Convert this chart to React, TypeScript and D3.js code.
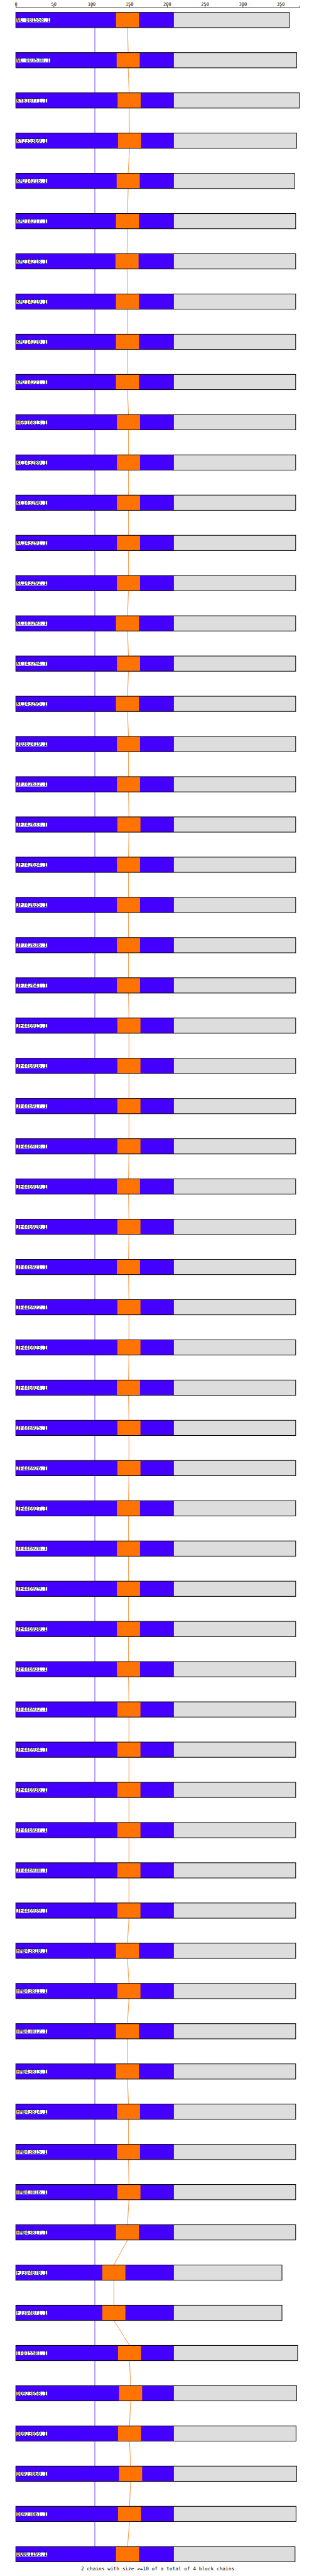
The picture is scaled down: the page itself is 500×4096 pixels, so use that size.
import React, { useEffect, useRef } from "react";
import * as d3 from "d3";

// rows, top to bottom
const LABELS = [
  "NC_001558.1", "NC_003538.1", "KY810771.1", "KY235369.1", "KM214216.1",
  "KM214217.1", "KM214218.1", "KM214219.1", "KM214220.1", "KM214221.1",
  "HG916813.1", "KC143289.1", "KC143290.1", "KC143291.1", "KC143292.1",
  "KC143293.1", "KC143294.1", "KC143295.1", "JQ362419.1", "JF742632.1",
  "JF742633.1", "JF742634.1", "JF742635.1", "JF742636.1", "JF742641.1",
  "JF446915.1", "JF446916.1", "JF446917.1", "JF446918.1", "JF446919.1",
  "JF446920.1", "JF446921.1", "JF446922.1", "JF446923.1", "JF446924.1",
  "JF446925.1", "JF446926.1", "JF446927.1", "JF446928.1", "JF446929.1",
  "JF446930.1", "JF446931.1", "JF446932.1", "JF446934.1", "JF446936.1",
  "JF446937.1", "JF446938.1", "JF446939.1", "HM043810.1", "HM043811.1",
  "HM043812.1", "HM043813.1", "HM043814.1", "HM043815.1", "HM043816.1",
  "HM043817.1", "FJ394070.1", "FJ394071.1", "EF015581.1", "DQ923058.1",
  "DQ923059.1", "DQ923060.1", "DQ923061.1", "DQ061193.1",
];

// start of the orange block in each sequence
const ORANGE_START = [
  132.5, 133.3, 134.6, 135.1, 133.3,
  132.4, 131.8, 132.4, 132.4, 132.4,
  133.7, 133.7, 133.7, 133.7, 133.7,
  132.4, 133.7, 132.4, 133.7, 133.7,
  134.3, 133.7, 133.7, 133.7, 133.7,
  134.3, 134.3, 134.3, 134.3, 133.7,
  134.3, 133.7, 134.3, 134.3, 133.7,
  134.3, 134.3, 133.7, 133.7, 133.7,
  133.7, 133.7, 134.3, 134.3, 134.3,
  134.3, 134.3, 134.3, 132.4, 134.3,
  132.4, 132.4, 133.7, 133.7, 134.3,
  132.4, 114.4, 114.4, 135.1, 136.5,
  135.1, 136.5, 135.1, 132.5,
];

// sequence lengths
const SEQ_END = [
  361.8, 371.3, 375, 371.3, 368.7,
  370, 370, 370, 370, 370,
  370, 370, 370, 370, 370,
  370, 370, 370, 370, 370,
  370, 370, 370, 370, 370,
  370, 370, 370, 370, 370,
  370, 370, 370, 370, 370,
  370, 370, 370, 370, 370,
  370, 370, 370, 370, 370,
  370, 370, 370, 370, 370,
  370, 370, 370, 370, 370,
  370, 351.9, 351.9, 372.6, 371.3,
  370.5, 371.3, 370.5, 369.2,
];

const ORANGE_LEN = 30.5;
const BLUE_END = 209;
const AXIS_MAX = 375;
const TICKS = [0, 50, 100, 150, 200, 250, 300, 350];
const FOOTER = "2 chains with size >=10 of a total of 4 block chains";

const S = 0.78;
const BLUE = "#4400ff";
const ORANGE = "#ff7300";
const GREY = "#dddddd";
const MONO = "DejaVu Sans Mono, monospace";

const App = () => {
  const svgRef = useRef<SVGSVGElement>(null);

  useEffect(() => {
    const svg = d3.select(svgRef.current);
    svg.selectAll("*").remove();
    const g = svg.append("g").attr("transform", `scale(${S})`);

    const x = d3.scaleLinear().domain([0, AXIS_MAX]).range([32.3, 611.3]);
    const y = d3.scaleLinear().domain([0, LABELS.length - 1]).range([25.3, 5191.3]);
    const boxH = 31;

    // axis on top
    const ax = g
      .append("g")
      .attr("transform", "translate(0,15)")
      .call(d3.axisTop(x).tickValues(TICKS).tickSize(3).tickSizeOuter(3).tickPadding(1));
    ax.attr("font-family", MONO).attr("font-size", 9);
    ax.selectAll("path,line").attr("stroke", "#000");

    const rows = LABELS.map((label, i) => ({
      label,
      i,
      start: ORANGE_START[i],
      end: SEQ_END[i],
    }));

    // connectors between consecutive rows
    const links = rows.slice(0, -1).map((d, k) => ({ a: d, b: rows[k + 1] }));
    g.selectAll(".blue-link")
      .data(links)
      .enter()
      .append("line")
      .attr("x1", x(BLUE_END / 2))
      .attr("x2", x(BLUE_END / 2))
      .attr("y1", (d) => y(d.a.i) + boxH)
      .attr("y2", (d) => y(d.b.i))
      .attr("stroke", BLUE)
      .attr("stroke-width", 1);
    g.selectAll(".orange-link")
      .data(links)
      .enter()
      .append("line")
      .attr("x1", (d) => x(d.a.start + ORANGE_LEN / 2))
      .attr("x2", (d) => x(d.b.start + ORANGE_LEN / 2))
      .attr("y1", (d) => y(d.a.i) + boxH)
      .attr("y2", (d) => y(d.b.i))
      .attr("stroke", ORANGE)
      .attr("stroke-width", 1);

    const row = g
      .selectAll(".row")
      .data(rows)
      .enter()
      .append("g")
      .attr("class", "row")
      .attr("transform", (d) => `translate(0,${y(d.i)})`);

    row.append("rect")
      .attr("x", x(0))
      .attr("width", (d) => x(d.end) - x(0))
      .attr("height", boxH)
      .attr("fill", GREY);
    row.append("rect")
      .attr("x", x(0))
      .attr("width", x(BLUE_END) - x(0))
      .attr("height", boxH)
      .attr("fill", BLUE);
    row.append("rect")
      .attr("x", (d) => x(d.start))
      .attr("width", x(ORANGE_LEN) - x(0))
      .attr("height", boxH)
      .attr("fill", ORANGE);
    row.append("rect")
      .attr("x", x(0))
      .attr("width", (d) => x(d.end) - x(0))
      .attr("height", boxH)
      .attr("fill", "none")
      .attr("stroke", "#000")
      .attr("stroke-width", 1.3);

    const fs = 10.3;
    row.append("rect")
      .attr("x", x(0) + 1)
      .attr("y", 12)
      .attr("width", (d) => d.label.length * 0.602 * fs + 1)
      .attr("height", 8)
      .attr("fill", "#fff");
    row.append("text")
      .attr("x", x(0) + 1.5)
      .attr("y", 19.6)
      .attr("font-family", MONO)
      .attr("font-size", fs)
      .attr("fill", "#000")
      .text((d) => d.label);

    g.append("text")
      .attr("x", (x(0) + x(AXIS_MAX)) / 2)
      .attr("y", 5239.5)
      .attr("text-anchor", "middle")
      .attr("font-family", MONO)
      .attr("font-size", 10)
      .attr("fill", "#000")
      .text(FOOTER);
  }, []);

  return (
    <div>
      <svg
        ref={svgRef}
        width={500}
        height={4096}
        style={{ position: "absolute", left: 0, top: 0, background: "#fff" }}
      ></svg>
    </div>
  );
};

export default App;
